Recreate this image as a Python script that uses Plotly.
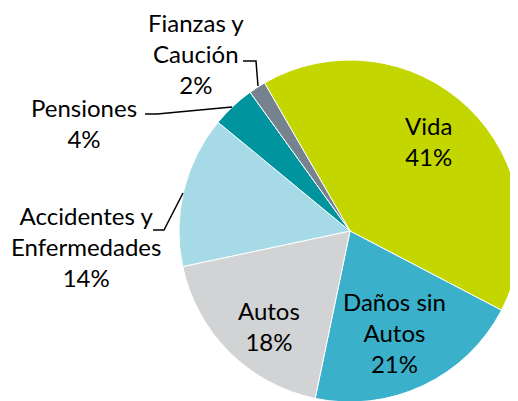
import plotly.graph_objects as go

W, H = 518, 401
OFF = 8  # page body margin offset

# Data
categories = ["Vida", "Daños sin Autos", "Autos", "Accidentes y Enfermedades", "Pensiones", "Fianzas y Caución"]
label_lines = ["Vida", "Daños sin<br>Autos", "Autos", "Accidentes y<br>Enfermedades", "Pensiones", "Fianzas y<br>Caución"]
values = [41.0, 20.6, 18.4, 14.3, 4.1, 1.6]
colors = ["#C4D600", "#3AB0CB", "#D1D3D4", "#A6DAE7", "#00959E", "#76838F"]

total = sum(values)
pcts = [f"{round(v / total * 100):.0f}%" for v in values]

def px(x, y):
    return (x - OFF) / W, 1 - (y - OFF) / H

# pie geometry (screen pixels)
cx, cy, R = 350 - OFF, 231 - OFF, 171

fig = go.Figure(go.Pie(
    labels=categories,
    values=values,
    sort=False,
    direction="clockwise",
    rotation=-30,
    marker=dict(colors=colors, line=dict(color="white", width=1)),
    textinfo="none",
    hoverinfo="label+percent",
    showlegend=False,
    domain=dict(x=[(cx - R) / W, (cx + R) / W], y=[(H - cy - R) / H, (H - cy + R) / H]),
))

# label anchor positions (screen pixels, centre of text block)
label_pos = [(428, 141), (394, 332), (269, 326), (86, 247), (84, 123), (196, 54)]

annotations = []
for txt, p, (lx, ly) in zip(label_lines, pcts, label_pos):
    ax_, ay_ = px(lx, ly)
    annotations.append(dict(
        x=ax_, y=ay_, xref="paper", yref="paper",
        text=f"{txt}<br>{p}", showarrow=False,
        xanchor="center", yanchor="middle", align="center",
        font=dict(family="Lato", size=24, color="black"),
    ))

# leader lines (screen pixels)
leaders = [
    [(243, 61), (256, 61), (258, 86)],
    [(145, 114), (157, 114), (232, 107)],
    [(153, 230), (164, 230), (183, 193)],
]
shapes = []
for pts in leaders:
    path = "M " + " L ".join(f"{px(x, y)[0]:.5f},{px(x, y)[1]:.5f}" for x, y in pts)
    shapes.append(dict(type="path", path=path, xref="paper", yref="paper",
                       line=dict(color="black", width=1.5)))

fig.update_layout(
    width=W, height=H,
    margin=dict(l=0, r=0, t=0, b=0),
    paper_bgcolor="white",
    plot_bgcolor="white",
    annotations=annotations,
    shapes=shapes,
)

fig.write_html("out.html")
